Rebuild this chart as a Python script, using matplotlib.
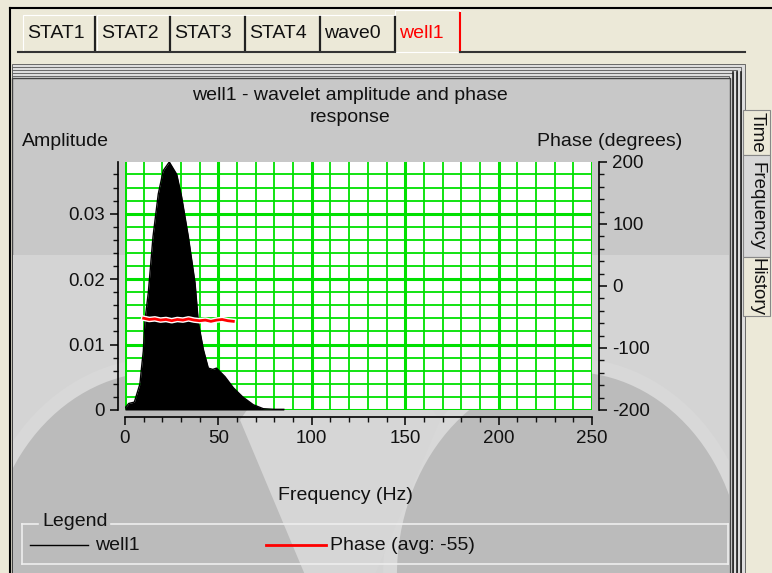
import matplotlib
matplotlib.use("Agg")
import matplotlib.pyplot as plt
import matplotlib.patches as mpatches
import matplotlib.patheffects as pe
from matplotlib.ticker import MultipleLocator

plt.rcParams['font.family'] = ['Liberation Sans', 'DejaVu Sans']
plt.rcParams['axes.unicode_minus'] = False

# amplitude spectrum
freq = [0, 2, 5, 8, 8.9, 9.8, 10.7, 12.5, 15, 17.8, 20.5, 23.7, 27.7, 30.3,
        33.9, 37.5, 39.3, 42, 44.6, 47, 49, 53.5, 58, 63, 68.7, 74, 80, 85]
amp = [0.0003, 0.0010, 0.0012, 0.0040, 0.0066, 0.0090, 0.0137, 0.0180, 0.0265,
       0.0330, 0.0366, 0.0379, 0.0360, 0.0326, 0.0265, 0.0194, 0.0133, 0.0092,
       0.0064, 0.0062, 0.0064, 0.0051, 0.0034, 0.0020, 0.0008, 0.0002, 0.0001, 0.0001]

# phase response
freq_ph = [10, 13, 16, 19, 22, 25, 28, 31, 34, 37, 40, 43, 46, 49, 52, 55, 58]
phase = [-52, -54, -53, -55, -54, -56, -54, -55, -53, -55, -56, -55, -57, -55, -54, -56, -57]
phase_avg = -55

tabs = ['STAT1', 'STAT2', 'STAT3', 'STAT4', 'wave0', 'well1']
side_tabs = ['Time', 'Frequency', 'History']

FS = 14      # window / chart text
TFS = 13.5   # tick labels
W, H = 772, 573
fig = plt.figure(figsize=(W / 100, H / 100), dpi=100)
fig.patch.set_facecolor('#ECE9D8')

# background layer in pixel coordinates for the window chrome
bg = fig.add_axes([0, 0, 1, 1])
bg.set_xlim(0, W)
bg.set_ylim(H, 0)
bg.axis('off')

beige = '#ECE9D8'
bg.plot([10, W], [8, 8], color='black', lw=1.5)
bg.plot([10, 10], [8, H], color='black', lw=1.5)

# top tabs
tab_x = [23, 97, 170, 245, 320, 395]
tab_w = [72, 73, 75, 75, 75, 65]
for i, name in enumerate(tabs):
    x0, w = tab_x[i], tab_w[i]
    sel = name == 'well1'
    top = 10 if sel else 15
    bg.add_patch(mpatches.Rectangle((x0, top), w, 52 - top, facecolor=beige,
                                    edgecolor='white', lw=0.8))
    if not sel:
        bg.plot([x0 + w, x0 + w], [top + 2, 51], color='#222222', lw=1.6)
    bg.text(x0 + 4, 33, name, fontsize=FS, va='center', ha='left',
            color='red' if sel else '#111111')
bg.plot([460, 460], [13, 52], color='red', lw=1.5)
bg.plot([18, 395], [52, 52], color='#333333', lw=1.5)
bg.plot([460, 745], [52, 52], color='#333333', lw=1.5)

# stacked page panel
for k in range(5):
    bg.add_patch(mpatches.Rectangle((12, 64 + 3 * k), 733 - 4 * k, 510,
                                    facecolor='#DDDDDD', edgecolor='#555555', lw=0.6))
bg.add_patch(mpatches.Rectangle((12, 78), 718, 496, facecolor='#C8C8C8',
                                edgecolor='#444444', lw=1))
low = mpatches.Rectangle((13, 255), 716, 318, facecolor='#D4D4D4', lw=0)
bg.add_patch(low)

# faded logo watermark in the lower half
for cx in (160, 570):
    e = mpatches.Ellipse((cx, 575), 360, 420, facecolor='#BBBBBB',
                         edgecolor='#D8D8D8', lw=10)
    bg.add_patch(e)
    e.set_clip_path(low)
bg.add_patch(mpatches.Polygon([[338, 280], [240, 420], [305, 575], [375, 575], [440, 420]],
                              closed=True, facecolor='#D6D6D6', lw=0))
for xx in [733, 737, 741]:
    bg.plot([xx, xx], [72, 573], color='#222222', lw=1.2)

# side tabs
side_y = [(110, 155), (155, 257), (257, 316)]
for (y0, y1), name in zip(side_y, side_tabs):
    sel = name == 'Frequency'
    bg.add_patch(mpatches.Rectangle((743, y0), 27, y1 - y0,
                                    facecolor='#D8D8D8' if sel else beige,
                                    edgecolor='#888888', lw=0.8))
    bg.text(757, (y0 + y1) / 2, name, rotation=-90, fontsize=TFS,
            ha='center', va='center', color='#111111')

# chart texts
bg.text(350, 95, 'well1 - wavelet amplitude and phase', fontsize=FS,
        ha='center', va='center', color='#111111')
bg.text(350, 117, 'response', fontsize=FS, ha='center', va='center', color='#111111')
bg.text(22, 141, 'Amplitude', fontsize=FS, ha='left', va='center', color='#111111')
bg.text(682, 141, 'Phase (degrees)', fontsize=FS, ha='right', va='center', color='#111111')
bg.text(345, 495, 'Frequency (Hz)', fontsize=FS, ha='center', va='center', color='#111111')

# legend box (frame broken by its title)
box_c = '#EEEEEE'
bg.plot([22, 38], [524, 524], color=box_c, lw=1.2)
bg.plot([111, 728], [524, 524], color=box_c, lw=1.2)
bg.plot([22, 728], [564, 564], color=box_c, lw=1.2)
bg.plot([22, 22], [524, 564], color=box_c, lw=1.2)
bg.plot([728, 728], [524, 564], color=box_c, lw=1.2)
bg.text(42, 522, 'Legend', fontsize=FS, ha='left', va='center', color='#111111')
bg.plot([30, 88], [545, 545], color='black', lw=1)
bg.text(95, 545, 'well1', fontsize=FS, ha='left', va='center', color='#111111')
bg.plot([266, 326], [545, 545], color='red', lw=2)
bg.text(330, 545, 'Phase (avg: %d)' % phase_avg, fontsize=FS, ha='left',
        va='center', color='#111111')

# plot area
left, right, top, bottom = 125, 592, 162, 410
ax = fig.add_axes([left / W, (H - bottom) / H, (right - left) / W, (bottom - top) / H])
ax.set_facecolor('white')
ax.set_xlim(0, 250)
ax.set_ylim(0, 0.0379)

ax.xaxis.set_major_locator(MultipleLocator(50))
ax.xaxis.set_minor_locator(MultipleLocator(10))
ax.yaxis.set_major_locator(MultipleLocator(0.01))
ax.yaxis.set_minor_locator(MultipleLocator(0.002))
ax.grid(which='minor', color='#00E000', lw=1.3)
ax.grid(which='major', color='#00E000', lw=2.2)
ax.set_axisbelow(True)

ax.fill_between(freq, amp, color='black', lw=0, zorder=3)
ax.plot(freq, amp, color='black', lw=1, zorder=3)

ax.yaxis.set_major_formatter(plt.FuncFormatter(lambda v, p: '0' if v == 0 else '%.2f' % v))

ph = ax.twinx()
ph.set_ylim(-200, 200)
ph.yaxis.set_major_locator(MultipleLocator(100))
ph.yaxis.set_minor_locator(MultipleLocator(20))
ph.plot(freq_ph, phase, color='red', lw=2, zorder=5,
        path_effects=[pe.Stroke(linewidth=4, foreground='white'), pe.Normal()])

for a in (ax, ph):
    a.spines['top'].set_visible(False)
    for s in ('left', 'bottom', 'right'):
        a.spines[s].set_position(('outward', 5))
        a.spines[s].set_linewidth(1.2)
    a.tick_params(which='major', length=6, width=1.2, labelsize=TFS,
                  direction='out', colors='#111111')
    a.tick_params(which='minor', length=3.5, width=1, direction='out', colors='#111111')
ax.spines['right'].set_visible(False)
ph.spines['left'].set_visible(False)
ph.spines['bottom'].set_visible(False)

fig.savefig('out.png', dpi=100, facecolor=fig.get_facecolor())
